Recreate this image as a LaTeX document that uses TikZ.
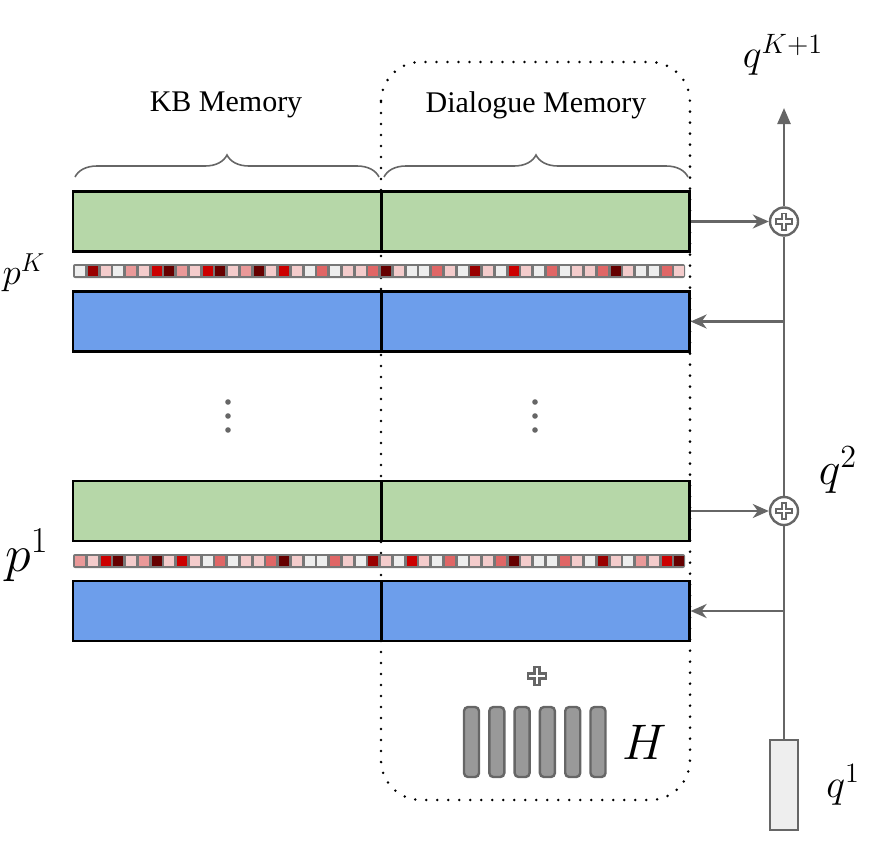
\RequirePackage{fix-cm}
\documentclass[tikz,border=0pt]{standalone}
\usepackage{fontspec}
\setmainfont{Liberation Serif}
\usetikzlibrary{arrows.meta,decorations.pathreplacing,positioning}
\definecolor{memgreen}{HTML}{B6D7A8}
\definecolor{memblue}{HTML}{6D9EEB}
\definecolor{linegray}{HTML}{666666}
\definecolor{bargray}{HTML}{999999}
\definecolor{stripgray}{HTML}{777777}
\definecolor{sq0}{HTML}{EEEEEE}
\definecolor{sq1}{HTML}{F4CCCC}
\definecolor{sq2}{HTML}{EA9999}
\definecolor{sq3}{HTML}{E06666}
\definecolor{sq4}{HTML}{CC0000}
\definecolor{sq5}{HTML}{990000}
\definecolor{sq6}{HTML}{660000}

\begin{document}
\begin{tikzpicture}[x=0.5pt,y=-0.5pt,
  half/.style={draw=black, line width=1.1pt, minimum width=154pt, minimum height=30pt, inner sep=0pt},
  gbox/.style={half, fill=memgreen},
  bbox/.style={half, fill=memblue},
  conn/.style={draw=linegray, line width=1.2pt},
  oplus/.style={circle, draw=linegray, line width=1.2pt, fill=white, minimum size=14pt, inner sep=0pt,
    path picture={
      \draw[linegray, line width=3.4pt] ([xshift=-4.5pt]path picture bounding box.center) -- ([xshift=4.5pt]path picture bounding box.center);
      \draw[linegray, line width=3.4pt] ([yshift=-4.5pt]path picture bounding box.center) -- ([yshift=4.5pt]path picture bounding box.center);
      \draw[white, line width=1.3pt] ([xshift=-3.6pt]path picture bounding box.center) -- ([xshift=3.6pt]path picture bounding box.center);
      \draw[white, line width=1.3pt] ([yshift=-3.6pt]path picture bounding box.center) -- ([yshift=3.6pt]path picture bounding box.center);}},
  plusmark/.style={minimum size=12pt, inner sep=0pt,
    path picture={
      \draw[linegray, line width=3.6pt] ([xshift=-5pt]path picture bounding box.center) -- ([xshift=5pt]path picture bounding box.center);
      \draw[linegray, line width=3.6pt] ([yshift=-5pt]path picture bounding box.center) -- ([yshift=5pt]path picture bounding box.center);
      \draw[white, line width=1.3pt] ([xshift=-4pt]path picture bounding box.center) -- ([xshift=4pt]path picture bounding box.center);
      \draw[white, line width=1.3pt] ([yshift=-4pt]path picture bounding box.center) -- ([yshift=4pt]path picture bounding box.center);}},
  hbar/.style={draw=linegray, fill=bargray, line width=1.2pt, rounded corners=2pt, minimum width=7.5pt, minimum height=35pt, inner sep=0pt},
  membrace/.style={draw=linegray, line width=0.8pt, decorate, decoration={brace, amplitude=11pt}}]
\useasboundingbox (0,0) rectangle (872,846);

% dialogue memory frame
\draw[line width=1.4pt, dash pattern=on 0pt off 5.5pt, line cap=round, rounded corners=20pt] (381,62) rectangle (690,800);

% memory rows
\node[gbox] (kbK) at (227,221.5) {};
\node[gbox] (dmK) at (535.5,221.5) {};
\node[bbox] (kbBK) at (227,321.5) {};
\node[bbox] (dmBK) at (535.5,321.5) {};
\node[gbox] (kb1) at (227,511) {};
\node[gbox] (dm1) at (535.5,511) {};
\node[bbox] (kbB1) at (227,611) {};
\node[bbox] (dmB1) at (535.5,611) {};

% attention strips
\fill[stripgray, rounded corners=1pt] (73,264) rectangle (685,278);
\foreach \c [count=\i from 0] in {0,5,1,0,2,1,4,6,2,1,4,6,1,2,6,1,4,1,0,3,0,1,1,3,6,1,0,0,3,1,0,5,1,0,4,1,0,3,0,1,1,3,6,1,0,0,3,1}
  \fill[sq\c] ({75+12.75*\i},266) rectangle ++(10,10);
\fill[stripgray, rounded corners=1pt] (73,554) rectangle (685,568);
\foreach \c [count=\i from 0] in {2,1,4,6,1,2,6,1,4,1,0,3,0,1,1,3,6,1,0,0,3,1,0,5,1,0,4,1,0,3,0,1,1,3,6,1,0,0,3,1,0,5,1,0,2,1,4,6}
  \fill[sq\c] ({75+12.75*\i},556) rectangle ++(10,10);

% vertical dots
\foreach \x in {228,535}
  \foreach \y in {402,416,430}
    \fill[linegray] (\x,\y) circle (1.4pt);

% braces and titles
\draw[membrace] (75,177) -- (379,177);
\draw[membrace] (384,177) -- (688,177);
\node (kbLabel) at (226,105) {\fontsize{15}{18}\selectfont KB Memory};
\node (dmLabel) at (536,105) {\fontsize{15}{18}\selectfont Dialogue Memory};

% hops labels
\node (pK) at (24,273) {\fontsize{18.5}{22}\selectfont $p^K$};
\node (p1) at (27,555) {\fontsize{26}{30}\selectfont $p^1$};

% history
\node[plusmark] (plusH) at (537,676) {};
\foreach \k in {1,...,6}
  \node[hbar] (bar\k) at ({471.5+25.3*(\k-1)},742) {};
\node (hLabel) at (645,742) {\fontsize{25}{30}\selectfont $H$};

% query controller
\node[draw=linegray, fill=sq0, line width=1.2pt, minimum width=14pt, minimum height=45pt, inner sep=0pt] (q1) at (784,785) {};
\node[oplus] (add1) at (784,511) {};
\node[oplus] (addK) at (784,221.5) {};
\coordinate (qtop) at (784,108);
\coordinate (tap1) at (784,611);
\coordinate (tapK) at (784,321.5);
\draw[conn] (q1.north) -- (add1.south);
\draw[conn] (add1.north) -- (addK.south);
\draw[conn, -{Triangle[length=8pt,width=6.5pt]}] (addK.north) -- (qtop);
\draw[conn, -{Stealth[length=8pt,width=7pt,inset=2.5pt]}] (dmK.east) -- (addK.west);
\draw[conn, -{Stealth[length=8pt,width=7pt,inset=2.5pt]}] (dm1.east) -- (add1.west);
\draw[conn, -{Stealth[length=8pt,width=7pt,inset=2.5pt]}] (tapK) -- (dmBK.east);
\draw[conn, -{Stealth[length=8pt,width=7pt,inset=2.5pt]}] (tap1) -- (dmB1.east);
\node (qK1) at (783,55) {\fontsize{20}{24}\selectfont $q^{K+1}$};
\node (q2) at (838,470) {\fontsize{23}{27}\selectfont $q^2$};
\node (q1Label) at (843,785) {\fontsize{20}{24}\selectfont $q^1$};
\end{tikzpicture}
\end{document}
